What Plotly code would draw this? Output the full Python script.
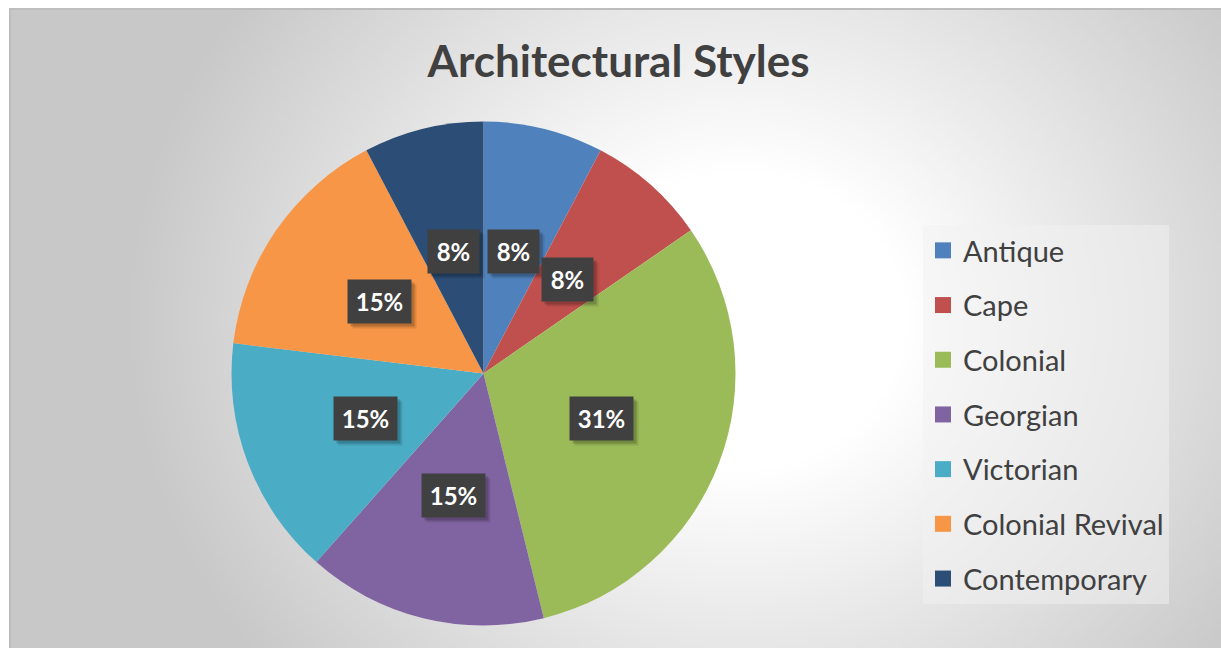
import base64
import struct
import zlib
import math
import numpy as np
import plotly.graph_objects as go

# ---------------- data ----------------
categories = ["Antique", "Cape", "Colonial", "Georgian", "Victorian",
              "Colonial Revival", "Contemporary"]
counts = [1, 1, 4, 2, 2, 2, 1]
colors = ["#4F81BD", "#C0504D", "#9BBB59", "#8064A2", "#4BACC6",
          "#F79646", "#2C4D75"]
title_text = "Architectural Styles"

W, H = 1221, 648
FONT = "Lato"

# ---------------- background gradient image ----------------
def make_png(arr):
    h, w = arr.shape
    raw = b"".join(b"\x00" + arr[i].astype(np.uint8).tobytes() for i in range(h))

    def chunk(t, d):
        return (struct.pack(">I", len(d)) + t + d +
                struct.pack(">I", zlib.crc32(t + d) & 0xffffffff))
    ihdr = struct.pack(">IIBBBBB", w, h, 8, 0, 0, 0, 0)
    return (b"\x89PNG\r\n\x1a\n" + chunk(b"IHDR", ihdr) +
            chunk(b"IDAT", zlib.compress(raw, 9)) + chunk(b"IEND", b""))

bx0, by0 = 10, 9
bw, bh = W - bx0, H - by0
gw, gh = 303, 160
gx = np.linspace(bx0, W, gw)[None, :]
gy = np.linspace(by0, H, gh)[:, None]
d = np.sqrt((gx - 740) ** 2 + ((gy - 320) / 0.9) ** 2)
t = np.clip((d - 170) / 450, 0, 1)
grad = 255 - 55 * t
img_src = "data:image/png;base64," + base64.b64encode(make_png(grad)).decode()

# ---------------- pie geometry ----------------
cx, cy, R = 483.5, 373.5, 252
dom_x = [(cx - R) / W, (cx + R) / W]
dom_y = [(H - cy - R) / H, (H - cy + R) / H]

fig = go.Figure()
fig.add_trace(go.Pie(
    labels=categories, values=counts, sort=False, direction="clockwise",
    rotation=0, marker=dict(colors=colors, line=dict(width=0)),
    textinfo="none", hoverinfo="label+percent", showlegend=False,
    domain=dict(x=dom_x, y=dom_y),
))

# legend entries
for name, col in zip(categories, colors):
    fig.add_trace(go.Scatter(
        x=[None], y=[None], mode="markers", name=name, legendgroup=name,
        marker=dict(symbol="square", size=16, color=col), showlegend=True,
    ))

# ---------------- data labels ----------------
total = sum(counts)
annotations = []
cum = 0
r_lab = 126
for name, v in zip(categories, counts):
    mid = (cum + v / 2) / total * 2 * math.pi
    cum += v
    px = cx + r_lab * math.sin(mid)
    py = cy - r_lab * math.cos(mid)
    pct = f"{round(v / total * 100)}%"
    bwid = 47 if len(pct) == 2 else 59
    for sh, a in [(5, 0.10), (3, 0.18)]:
        annotations.append(dict(
            x=px / W, y=1 - py / H, xref="paper", yref="paper",
            xanchor="center", yanchor="middle",
            text=" ", showarrow=False, width=bwid, height=39, borderpad=2,
            bgcolor=f"rgba(0,0,0,{a})", xshift=sh, yshift=-sh,
        ))
    annotations.append(dict(
        x=px / W, y=1 - py / H, xref="paper", yref="paper",
        xanchor="center", yanchor="middle",
        text=f"<b>{pct}</b>", showarrow=False, width=bwid, height=39,
        borderpad=2, bgcolor="#404040",
        font=dict(family=FONT, size=24, color="white"),
    ))

fig.update_layout(
    width=W, height=H,
    margin=dict(l=0, r=0, t=0, b=0),
    paper_bgcolor="white", plot_bgcolor="rgba(0,0,0,0)",
    xaxis=dict(visible=False, domain=[0.99, 1]),
    yaxis=dict(visible=False, domain=[0.99, 1]),
    title=dict(text=f"<b>{title_text}</b>", x=618.5 / W, y=1 - 62 / H,
               xanchor="center", yanchor="middle",
               font=dict(family=FONT, size=44, color="#404040")),
    legend=dict(x=923 / W, y=1 - 225 / H, xanchor="left", yanchor="top",
                bgcolor="rgba(242,242,242,0.5)", borderwidth=0,
                font=dict(family=FONT, size=29, color="#404040"),
                tracegroupgap=14, traceorder="grouped",
                itemclick=False, itemdoubleclick=False),
    images=[dict(source=img_src, xref="paper", yref="paper",
                 x=bx0 / W, y=1 - by0 / H, sizex=bw / W, sizey=bh / H,
                 xanchor="left", yanchor="top", sizing="stretch",
                 layer="below")],
    shapes=[dict(type="rect", xref="paper", yref="paper",
                 x0=bx0 / W, y0=-0.05, x1=1.05, y1=1 - by0 / H,
                 line=dict(color="#BDBDBD", width=2), layer="below")],
    annotations=annotations,
    showlegend=True,
)

fig.write_html("out.html")
